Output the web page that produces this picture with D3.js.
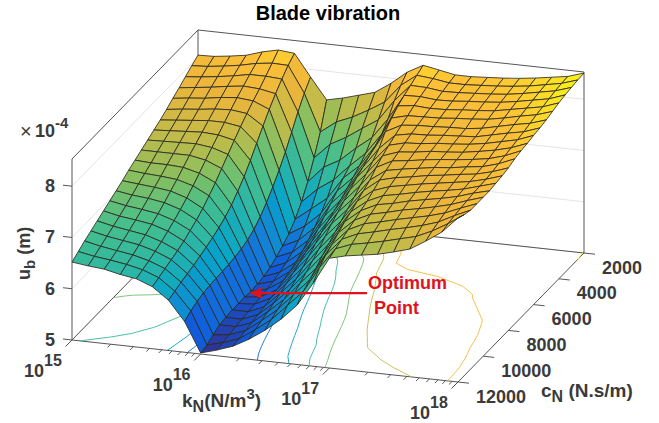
<!DOCTYPE html>
<html>
<head>
<meta charset="utf-8">
<title>Blade vibration</title>
<script src="https://cdn.jsdelivr.net/npm/d3@7"></script>
<style>
    body { margin: 0; background: #fff; }
    text { font-family: "Liberation Sans", Arial, sans-serif; font-weight: bold; fill: #3a3a3a; }
</style>
</head>
<body>
<svg id="chart" width="659" height="423"></svg>
<script>
"use strict";

// log10 of kN at each surface column
var kExponents = [15, 15.125, 15.25, 15.375, 15.5, 15.625, 15.75, 15.875, 16, 16.125, 16.25, 16.375, 16.5,
    16.625, 16.75, 16.875, 17, 17.125, 17.25, 17.375, 17.5, 17.625, 17.75, 17.875, 18];
var cValues = [2000, 2500, 3000, 3500, 4000, 4500, 5000, 5500, 6000, 6500, 7000, 7500, 8000, 8500, 9000, 9500,
    10000, 10500, 11000, 11500, 12000];

// u_b (x 1e-4 m), one line per kN column, values running along cValues
var ub = [
    [8.04,7.96,7.87,7.78,7.70,7.61,7.53,7.46,7.39,7.32,7.25,7.18,7.10,7.03,6.96,6.89,6.82,6.75,6.68,6.60,6.52],
    [8.05,7.98,7.90,7.82,7.74,7.65,7.56,7.48,7.40,7.32,7.23,7.15,7.07,6.98,6.90,6.82,6.75,6.68,6.61,6.54,6.48],
    [8.09,8.02,7.94,7.86,7.77,7.68,7.59,7.50,7.41,7.32,7.23,7.13,7.04,6.95,6.86,6.78,6.70,6.63,6.56,6.50,6.45],
    [8.14,8.07,7.99,7.91,7.82,7.72,7.62,7.52,7.42,7.32,7.21,7.10,7.00,6.90,6.81,6.73,6.65,6.58,6.51,6.45,6.38],
    [8.24,8.14,8.05,7.95,7.85,7.74,7.62,7.50,7.38,7.26,7.13,7.01,6.90,6.80,6.71,6.63,6.55,6.49,6.43,6.38,6.33],
    [8.31,8.18,8.05,7.93,7.82,7.70,7.57,7.43,7.28,7.13,6.98,6.85,6.73,6.63,6.55,6.47,6.41,6.36,6.31,6.26,6.21],
    [8.28,8.17,8.03,7.87,7.69,7.49,7.28,7.07,6.88,6.72,6.58,6.47,6.39,6.32,6.26,6.21,6.16,6.12,6.08,6.03,5.98],
    [7.85,7.66,7.42,7.15,6.89,6.66,6.46,6.28,6.13,6.01,5.93,5.88,5.85,5.83,5.82,5.81,5.80,5.78,5.74,5.68,5.60],
    [7.44,6.94,6.56,6.22,5.95,5.74,5.58,5.47,5.38,5.30,5.25,5.23,5.22,5.23,5.23,5.23,5.21,5.19,5.12,5.05,5.02],
    [7.51,7.17,6.86,6.54,6.24,5.98,5.77,5.62,5.51,5.43,5.37,5.32,5.29,5.27,5.25,5.23,5.21,5.19,5.16,5.13,5.11],
    [7.60,7.30,7.03,6.71,6.45,6.22,6.05,5.90,5.78,5.68,5.60,5.54,5.49,5.44,5.40,5.36,5.33,5.30,5.27,5.24,5.22],
    [7.69,7.47,7.24,6.98,6.76,6.65,6.52,6.40,6.28,6.16,6.04,5.95,5.87,5.80,5.73,5.66,5.60,5.55,5.50,5.45,5.39],
    [7.90,7.66,7.44,7.22,7.04,6.92,6.82,6.72,6.63,6.55,6.47,6.38,6.28,6.17,6.07,5.98,5.90,5.82,5.75,5.68,5.60],
    [8.15,8.02,7.85,7.62,7.45,7.35,7.27,7.18,7.10,7.00,6.90,6.80,6.70,6.58,6.46,6.36,6.26,6.17,6.08,5.99,5.85],
    [8.32,8.25,8.18,8.11,8.03,7.92,7.78,7.58,7.45,7.34,7.23,7.12,7.02,6.92,6.82,6.72,6.62,6.50,6.40,6.30,6.16],
    [8.26,8.22,8.17,8.12,8.07,8.00,7.94,7.87,7.80,7.72,7.62,7.50,7.42,7.34,7.26,7.19,7.10,7.00,6.92,6.80,6.62],
    [8.20,8.17,8.13,8.09,8.05,8.01,7.97,7.93,7.88,7.83,7.78,7.72,7.66,7.58,7.50,7.44,7.38,7.32,7.26,7.20,7.14],
    [8.20,8.17,8.14,8.10,8.06,8.02,7.98,7.94,7.90,7.86,7.82,7.78,7.74,7.69,7.64,7.59,7.53,7.47,7.40,7.32,7.22],
    [8.22,8.19,8.16,8.13,8.09,8.05,8.00,7.97,7.94,7.91,7.87,7.83,7.79,7.75,7.70,7.65,7.60,7.54,7.47,7.38,7.27],
    [8.24,8.21,8.18,8.15,8.11,8.07,8.01,7.99,7.96,7.93,7.91,7.88,7.85,7.81,7.77,7.73,7.68,7.62,7.55,7.45,7.32],
    [8.27,8.24,8.21,8.18,8.14,8.10,8.05,8.01,7.99,7.96,7.94,7.91,7.89,7.86,7.83,7.79,7.74,7.69,7.62,7.53,7.40],
    [8.31,8.28,8.26,8.23,8.20,8.16,8.12,8.08,8.04,8.01,7.98,7.96,7.94,7.91,7.88,7.85,7.81,7.76,7.70,7.61,7.49],
    [8.36,8.34,8.32,8.29,8.26,8.23,8.19,8.15,8.11,8.07,8.03,8.00,7.98,7.96,7.94,7.92,7.89,7.85,7.80,7.75,7.68],
    [8.41,8.40,8.38,8.35,8.32,8.29,8.25,8.21,8.18,8.15,8.12,8.09,8.06,8.04,8.03,8.02,8.00,7.98,7.96,7.93,7.89],
    [8.51,8.50,8.48,8.46,8.43,8.39,8.35,8.32,8.30,8.27,8.25,8.22,8.17,8.14,8.12,8.10,8.10,8.10,8.10,8.14,8.20]
];

var kTicks = [1e15, 1e16, 1e17, 1e18];
var kTickExponents = ["15", "16", "17", "18"];
var kMinorTicks = [2e15, 3e15, 4e15, 5e15, 6e15, 7e15, 8e15, 9e15, 2e16, 3e16, 4e16, 5e16, 6e16, 7e16, 8e16, 9e16,
    2e17, 3e17, 4e17, 5e17, 6e17, 7e17, 8e17, 9e17];
var cTicks = [2000, 4000, 6000, 8000, 10000, 12000];
var zTicks = [5, 6, 7, 8];
var contourLevels = [5.5, 6, 6.5, 7, 7.5, 8, 8.5];
var optimum = {k: 1e16, c: 8000, z: 5.22};

// parula
var colorStops = [0, 0.1, 0.2, 0.3, 0.4, 0.5, 0.6, 0.7, 0.8, 0.9, 1];
var colorList = ["#352a87", "#0f5cdd", "#1481d6", "#06a4ca", "#2eb7a4", "#47bf8c", "#87bf5f", "#c4bb48",
    "#eab53c", "#fdc038", "#f9fb15"];

var zMin = 5, zMax = 8.53;
var color = d3.scaleLinear()
    .domain(colorStops.map(function(s) { return zMin + s * (zMax - zMin); }))
    .range(colorList);

var kScale = d3.scaleLog().domain([1e15, 1e18]).range([0, 1]);
var cScale = d3.scaleLinear().domain([2000, 12000]).range([0, 1]);
var zScale = d3.scaleLinear().domain([zMin, zMax]).range([0, 181]);

// oblique box: back left corner plus one screen vector for each axis
function project(k, c, z) {
    var u = kScale(k), v = cScale(c);
    return [198 + 386 * u - 126 * v, 211 + 42 * u + 129 * v - zScale(z)];
}

function gridPoint(i, j) {
    return project(Math.pow(10, kExponents[i]), cValues[j], ub[i][j]);
}

var svg = d3.select("#chart");
var line = d3.line();

function edge(a, b, stroke, width) {
    svg.append("line")
        .attr("x1", a[0]).attr("y1", a[1])
        .attr("x2", b[0]).attr("y2", b[1])
        .attr("stroke", stroke)
        .attr("stroke-width", width);
}

// gridlines on the two walls
zTicks.forEach(function(z) {
    edge(project(1e15, 12000, z), project(1e15, 2000, z), "#e4e4e4", 1);
    edge(project(1e15, 2000, z), project(1e18, 2000, z), "#e4e4e4", 1);
});

// box
var boxColor = "#555";
edge(project(1e15, 12000, zMin), project(1e15, 12000, zMax), boxColor, 1);
edge(project(1e15, 12000, zMax), project(1e15, 2000, zMax), boxColor, 1);
edge(project(1e15, 2000, zMax), project(1e18, 2000, zMax), boxColor, 1);
edge(project(1e15, 2000, zMax), project(1e15, 2000, zMin), boxColor, 1);
edge(project(1e18, 2000, zMax), project(1e18, 2000, zMin), boxColor, 1);
edge(project(1e15, 12000, zMin), project(1e15, 2000, zMin), boxColor, 1);
edge(project(1e15, 2000, zMin), project(1e18, 2000, zMin), boxColor, 1);
edge(project(1e15, 12000, zMin), project(1e18, 12000, zMin), boxColor, 1);
edge(project(1e18, 12000, zMin), project(1e18, 2000, zMin), boxColor, 1);

// ticks
kTicks.forEach(function(k) {
    var p = project(k, 12000, zMin);
    edge(p, [p[0] - 6.5, p[1] + 6.5], boxColor, 1);
});
kMinorTicks.forEach(function(k) {
    var p = project(k, 12000, zMin);
    edge(p, [p[0] - 3.2, p[1] + 3.2], boxColor, 1);
});
cTicks.forEach(function(c) {
    var p = project(1e18, c, zMin);
    edge(p, [p[0] + 11, p[1] + 1.2], boxColor, 1);
});
zTicks.forEach(function(z) {
    var p = project(1e15, 12000, z);
    edge(p, [p[0] - 9, p[1] - 1], boxColor, 1);
});

// contours on the floor
var flat = [];
cValues.forEach(function(c, j) {
    kExponents.forEach(function(e, i) {
        flat.push(ub[i][j]);
    });
});
var nk = kExponents.length, nc = cValues.length;
var contourSets = d3.contours().size([nk, nc]).thresholds(contourLevels)(flat);

function floorPoint(pt) {
    var k = Math.pow(10, 15 + (pt[0] - 0.5) * 0.125);
    var c = 2000 + (pt[1] - 0.5) * 500;
    return project(k, c, zMin);
}

contourSets.forEach(function(set) {
    set.coordinates.forEach(function(poly) {
        poly.forEach(function(ring) {
            // d3 closes the ring round the grid border, keep only the open parts
            var piece = [];
            ring.forEach(function(pt) {
                var inside = pt[0] >= 0.5 && pt[0] <= nk - 0.5 && pt[1] >= 0.5 && pt[1] <= nc - 0.5;
                if (inside) {
                    piece.push(floorPoint(pt));
                } else {
                    if (piece.length > 1) drawContour(piece, set.value);
                    piece = [];
                }
            });
            if (piece.length > 1) drawContour(piece, set.value);
        });
    });
});

function drawContour(points, value) {
    svg.append("path")
        .attr("d", line(points))
        .attr("fill", "none")
        .attr("stroke", color(value))
        .attr("stroke-width", 0.9);
}

// surface cells, far ones first
var cells = [];
for (let i = 0; i < nk - 1; i++) {
    for (let j = 0; j < nc - 1; j++) {
        cells.push({i: i, j: j, depth: i * 1.75 + j * 6.45});
    }
}
cells.sort(function(a, b) { return a.depth - b.depth; });

svg.append("g")
    .selectAll("path").data(cells).enter()
    .append("path")
    .attr("d", function(d) {
        return line([gridPoint(d.i, d.j), gridPoint(d.i + 1, d.j), gridPoint(d.i + 1, d.j + 1), gridPoint(d.i, d.j + 1)]) + "Z";
    })
    .attr("fill", function(d) {
        return color((ub[d.i][d.j] + ub[d.i + 1][d.j] + ub[d.i][d.j + 1] + ub[d.i + 1][d.j + 1]) / 4);
    })
    .attr("stroke", "#2a2a20")
    .attr("stroke-width", 0.85)
    .attr("stroke-linejoin", "round");

// texts
function label(x, y, str, size, extra) {
    var t = svg.append("text")
        .attr("x", x)
        .attr("y", y)
        .attr("font-size", size)
        .text(str);
    if (extra) t.style("fill", extra);
    return t;
}

label(328, 20, "Blade vibration", 20, "#000").attr("text-anchor", "middle");

// k ticks: label sits below and left of each major tick
kTicks.forEach(function(k, idx) {
    var p = project(k, 12000, zMin);
    label(p[0] - 48, p[1] + 37, "10", 18);
    label(p[0] - 28, p[1] + 26, kTickExponents[idx], 16);
});

cTicks.forEach(function(c) {
    var p = project(1e18, c, zMin);
    label(p[0] + 18, p[1] + 20.5, c, 18);
});

zTicks.forEach(function(z) {
    var p = project(1e15, 12000, z);
    label(p[0] - 17, p[1] + 6, z, 18).attr("text-anchor", "end");
});

// x10^-4
label(20, 138, "\u00d7", 20).style("font-weight", "normal");
label(35, 137, "10", 18);
label(55, 128, "-4", 15);

// k_N (N/m^3)
var kLabel = label(182, 407, "k", 19);
kLabel.append("tspan").attr("dy", 5).attr("font-size", 16).text("N");
kLabel.append("tspan").attr("dy", -5).text("(N/m");
kLabel.append("tspan").attr("dy", -8).attr("font-size", 15).text("3");
kLabel.append("tspan").attr("dy", 8).text(")");

// c_N (N.s/m)
var cLabel = label(541, 397, "c", 19);
cLabel.append("tspan").attr("dy", 5).attr("font-size", 16).text("N");
cLabel.append("tspan").attr("dy", -5).text(" (N.s/m)");

// u_b (m)
var uLabel = svg.append("text")
    .attr("transform", "translate(30,280) rotate(-90)")
    .attr("font-size", 18)
    .text("u");
uLabel.append("tspan").attr("dy", 5).attr("font-size", 15).text("b");
uLabel.append("tspan").attr("dy", -5).text(" (m)");

// optimum point marker
var red = "#e0121c";
var tip = project(optimum.k, optimum.c, optimum.z);
svg.append("line")
    .attr("x1", tip[0] + 8).attr("y1", tip[1] + 2)
    .attr("x2", 367).attr("y2", tip[1] + 2)
    .attr("stroke", red)
    .attr("stroke-width", 2.4);
svg.append("path")
    .attr("d", line([[tip[0] - 2, tip[1] + 2], [tip[0] + 12, tip[1] - 4], [tip[0] + 9, tip[1] + 2], [tip[0] + 12, tip[1] + 8]]) + "Z")
    .attr("fill", red);
label(368, 289, "Optimum", 18, red);
label(374, 314, "Point", 18, red);
</script>
</body>
</html>
